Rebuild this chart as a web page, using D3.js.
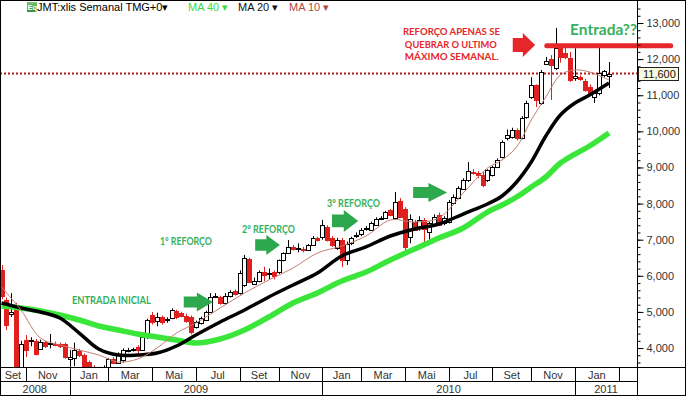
<!DOCTYPE html>
<html>
<head>
<meta charset="utf-8">
<script src="https://cdn.jsdelivr.net/npm/d3@7"></script>
<style>
  body { margin: 0; background: #fff; }
  svg { display: block; }
  text { font-family: Arial, "Liberation Sans", sans-serif; }
</style>
</head>
<body>
<svg id="chart" width="686" height="396"></svg>
<script>
// weekly candles, first week starts Mon 29 Sep 2008
var opens = [6150,5330,4950,5150,3450,4220,4180,4190,3980,4160,
  4120,4120,4110,4110,3700,3720,3920,3800,3600,3450,
  3380,3440,3470,3690,3590,3670,3920,3950,4030,3950,
  4290,4910,4750,4860,4760,4830,5020,4980,4900,4850,
  4580,4680,4780,5000,5420,5410,5250,5440,5580,5520,
  5750,6460,5800,5850,6100,6040,6100,6100,6440,6650,
  6800,6740,6740,6720,6860,7050,7060,7350,7050,6770,
  6990,6440,6900,7100,7150,7300,7270,7410,7580,7600,
  7820,7600,8080,7850,7050,7500,7320,7540,7210,7420,
  7680,7450,7480,8020,8155,8400,8650,8880,8850,8800,
  8650,8790,9010,9290,9820,9840,10040,9820,10400,10950,
  11280,10780,11870,12000,11750,12300,12170,12030,11480,11500,
  11390,11230,10950,11060,11580,11540];
var highs = [6300,5400,5520,5250,4200,4360,4300,4250,4230,4200,
  4390,4180,4150,4150,3950,4150,3980,3850,3650,3520,
  3480,3520,3720,3750,3880,3990,4000,4010,4080,4320,
  4810,5000,4980,4900,4850,5100,5060,5000,4950,4900,
  4760,4870,5030,5520,5520,5450,5520,5600,5620,6150,
  6580,6500,5950,6150,6250,6200,6150,6450,6650,6990,
  6850,6900,6800,6880,7100,7080,7550,7400,7100,7050,
  7050,6950,7080,7200,7320,7380,7500,7620,7650,7800,
  7850,8320,8150,7900,7700,7550,7650,7600,7500,7700,
  7750,7650,8100,8250,8480,8700,9150,8950,8900,8870,
  8950,9050,9250,9750,10050,10100,10080,10420,10850,11500,
  11300,11700,12060,12110,12860,12400,12390,12200,12300,11550,
  11450,11300,11100,12370,11700,11920];
var lows = [5350,4500,4860,3350,3400,3750,4050,3800,3950,4000,
  3990,4050,4000,3700,3480,3500,3750,3420,3350,3250,
  3250,3350,3420,3560,3560,3600,3880,3900,3850,3920,
  4250,4650,4600,4650,4700,4800,4800,4850,4700,4380,
  4540,4650,4750,4980,5380,5200,5200,5400,5450,5480,
  5700,5800,5750,5820,5850,5900,5900,6050,6400,6620,
  6700,6650,6650,6700,6830,6950,7000,6950,6800,6720,
  6240,6300,6850,7050,7100,7250,7250,7380,7550,7580,
  7650,7550,7600,6710,6900,7250,7250,6900,6950,7350,
  7380,7400,7450,7980,8120,8380,8600,8800,8700,8450,
  8600,8750,8980,9250,9750,9800,9750,9780,10350,10900,
  10670,10730,11840,10870,11700,11900,12000,11370,11400,11400,
  11100,11000,10785,11000,11500,11200];
var closes = [5420,4640,5000,3420,4110,3950,4220,3830,4160,4050,
  4150,4100,4060,3750,3760,3940,3800,3480,3420,3380,
  3440,3480,3700,3590,3810,3940,3950,3970,3940,4300,
  4770,4720,4850,4720,4800,5050,4850,4900,4750,4440,
  4720,4830,5000,5420,5450,5250,5450,5560,5500,6070,
  6490,5830,5870,6100,6020,6070,6000,6430,6630,6810,
  6750,6760,6720,6850,7050,7000,7400,6990,6860,6990,
  6440,6880,7040,7130,7270,7320,7460,7570,7600,7760,
  7680,8030,7650,6800,7560,7280,7540,7300,7450,7630,
  7410,7600,8040,8180,8430,8650,8900,8850,8800,8510,
  8930,9010,9200,9700,9900,10040,9820,10370,10780,11280,
  10870,11640,11950,11840,12310,12060,12060,11420,11530,11450,
  11140,11060,11060,11610,11680,11600];

// moving averages at these week numbers
var maWeeks = [0,4,8,12,16,20,24,28,32,36,40,45,50,55,60,65,70,75,80,85,90,95,100,103,106,109,112,115,118,121,125];
var ma40 = [5164,5109,5025,4915,4776,4610,4499,4389,4306,4222,4139,4250,4499,4859,5247,5524,5856,6105,6438,6742,7047,7324,7766,7960,8182,8459,8736,9124,9372,9594,9954];
var ma20 = [5247,5109,4998,4831,4416,3973,3807,3807,3862,4056,4361,4721,5053,5413,5746,6078,6549,6798,7102,7296,7435,7711,7988,8210,8598,9152,9871,10453,10785,11006,11339];
var ma10 = [5690,5053,4278,4084,3946,3807,3613,3696,4001,4416,4693,5109,5524,5884,6216,6631,6825,7102,7546,7491,7602,8293,8985,9207,9567,10315,10951,11560,11699,11643,11422];

var yTicks = [4000,5000,6000,7000,8000,9000,10000,11000,12000,13000];
var monthNames = ["Jan","Fev","Mar","Abr","Mai","Jun","Jul","Ago","Set","Out","Nov","Dez"];
var lastPrice = 11600;
var resistance = 12370;

var green = "#36b05c", arrowGreen = "#2ea84c", red = "#e5262a";

// annotations in week / price units
var notes = [
  {t: "ENTRADA INICIAL", w: 14.5, v: 5219, len: 79, size: 10.5, c: green},
  {t: "1º REFORÇO", w: 32.6, v: 6853, len: 52, size: 10.5, c: green},
  {t: "2º REFORÇO", w: 49.5, v: 7182, len: 53, size: 10.5, c: green},
  {t: "3º REFORÇO", w: 67, v: 7902, len: 53, size: 10.5, c: green},
  {t: "Entrada??", w: 117, v: 12668, len: 67, size: 14.5, c: green},
  {t: "REFORÇO APENAS SE", w: 82.6, v: 12668, len: 97, size: 10, c: red},
  {t: "QUEBRAR O ULTIMO", w: 83.0, v: 12308, len: 92, size: 10, c: red},
  {t: "MÁXIMO SEMANAL.", w: 83.0, v: 11975, len: 94, size: 10, c: red}
];
var arrows = [
  {w0: 37.5, w1: 43.5, v: 5274, h: 19, c: arrowGreen},
  {w0: 52.2, w1: 57.3, v: 6853, h: 20, c: arrowGreen},
  {w0: 68.0, w1: 73.4, v: 7518, h: 22, c: arrowGreen},
  {w0: 84.7, w1: 91.7, v: 8307, h: 19, c: arrowGreen},
  {w0: 105.2, w1: 109.8, v: 12391, h: 24, c: red}
];

var svg = d3.select("#chart");
var plotR = 637, plotB = 367;

var firstWeek = new Date(2008, 8, 29);
var x = d3.scaleLinear().domain([0, 127]).range([1.5, 618.7]);
var y = d3.scaleLinear().domain([3475, 13637]).range([plotB, 0]);

svg.append("rect").attr("width", 686).attr("height", 396).attr("fill", "#fff");

svg.append("clipPath").attr("id", "plot")
  .append("rect").attr("width", plotR).attr("height", plotB);
var g = svg.append("g").attr("clip-path", "url(#plot)");

// last price dotted line
g.append("line")
  .attr("x1", 0).attr("x2", plotR)
  .attr("y1", y(lastPrice)).attr("y2", y(lastPrice))
  .attr("stroke", "#b01818").attr("stroke-width", 2).attr("stroke-dasharray", "2,2");

// candles
var cand = g.append("g").selectAll("g").data(opens).enter().append("g")
  .attr("transform", function (d, i) { return "translate(" + (Math.round(x(i)) + 0.5) + ",0)"; });
cand.append("line")
  .attr("y1", function (d, i) { return y(highs[i]); })
  .attr("y2", function (d, i) { return y(lows[i]); })
  .attr("stroke", function (d, i) { return closes[i] >= d ? "#000" : "#e0201f"; });
cand.append("rect")
  .attr("x", -2).attr("width", 4)
  .attr("y", function (d, i) { return Math.round(y(Math.max(d, closes[i]))) + 0.5; })
  .attr("height", function (d, i) { return Math.max(1, Math.round(y(Math.min(d, closes[i])) - y(Math.max(d, closes[i])))); })
  .attr("fill", function (d, i) { return closes[i] >= d ? "#fff" : "#e0201f"; })
  .attr("stroke", function (d, i) { return closes[i] >= d ? "#000" : "#e0201f"; });

// moving averages
var maLine = d3.line()
  .x(function (d, i) { return x(maWeeks[i]); })
  .y(function (d) { return y(d); })
  .curve(d3.curveCatmullRom);
g.append("path").datum(ma40).attr("d", maLine)
  .attr("fill", "none").attr("stroke", "#3be63b").attr("stroke-width", 5.5);
g.append("path").datum(ma20).attr("d", maLine)
  .attr("fill", "none").attr("stroke", "#000").attr("stroke-width", 3.5);
g.append("path").datum(ma10).attr("d", maLine)
  .attr("fill", "none").attr("stroke", "#c47e72").attr("stroke-width", 1);

// arrows
arrows.forEach(function (a) {
  var x0 = x(a.w0), x1 = x(a.w1), yc = y(a.v);
  var hs = x0 + (x1 - x0) * 0.45, t = a.h * 0.29, h = a.h / 2;
  svg.append("path")
    .attr("d", "M" + x0 + "," + (yc - t) + "L" + hs + "," + (yc - t) + "L" + hs + "," + (yc - h) +
      "L" + x1 + "," + yc + "L" + hs + "," + (yc + h) + "L" + hs + "," + (yc + t) + "L" + x0 + "," + (yc + t) + "Z")
    .attr("fill", a.c);
});

// resistance bar drawn by hand over the chart
svg.append("line")
  .attr("x1", x(112.2)).attr("x2", x(137.7))
  .attr("y1", y(resistance)).attr("y2", y(resistance))
  .attr("stroke", red).attr("stroke-width", 5).attr("stroke-linecap", "round");

// notes
svg.selectAll(".note").data(notes).enter().append("text")
  .attr("x", function (d) { return x(d.w); })
  .attr("y", function (d) { return y(d.v); })
  .attr("textLength", function (d) { return d.len; })
  .attr("lengthAdjust", "spacingAndGlyphs")
  .style("font-family", "Lato, 'Open Sans', sans-serif")
  .style("font-weight", "bold")
  .style("font-size", function (d) { return d.size + "px"; })
  .attr("fill", function (d) { return d.c; })
  .text(function (d) { return d.t; });

// frame
var frame = svg.append("g").attr("stroke", "#000").attr("shape-rendering", "crispEdges");
frame.append("rect").attr("x", 0.5).attr("y", 0.5).attr("width", 685).attr("height", 395).attr("fill", "none");
frame.append("line").attr("x1", plotR + 0.5).attr("x2", plotR + 0.5).attr("y1", 0).attr("y2", 396);
frame.append("line").attr("x1", 0).attr("x2", 686).attr("y1", plotB + 0.5).attr("y2", plotB + 0.5);
frame.append("line").attr("x1", 0).attr("x2", plotR).attr("y1", 381.5).attr("y2", 381.5);

// price axis
var minor = d3.range(3600, 13600, 200);
svg.append("g").attr("transform", "translate(" + (plotR + 0.5) + ",0)")
  .call(d3.axisRight(y).tickValues(minor).tickSize(3).tickFormat(""))
  .call(function (a) { a.select(".domain").remove(); });
var yAxis = svg.append("g").attr("transform", "translate(" + (plotR + 0.5) + ",0)")
  .call(d3.axisRight(y).tickValues(yTicks).tickSize(6).tickPadding(3).tickFormat(d3.format(",")));
yAxis.select(".domain").remove();
yAxis.selectAll("text").attr("fill", "#333").style("font-size", "11px").style("font-family", "Arial, 'Liberation Sans', sans-serif");

// last price box
var lp = svg.append("g").attr("transform", "translate(638," + y(lastPrice) + ")");
lp.append("rect").attr("x", 0.5).attr("y", -6.5).attr("width", 40).attr("height", 13)
  .attr("fill", "#fbfbe0").attr("stroke", "#222").attr("shape-rendering", "crispEdges");
lp.append("text").attr("x", 5).attr("y", 4.5).attr("fill", "#111").style("font-size", "11px").text(d3.format(",")(lastPrice));

// time axis: months every two months, years below
var mTicks = d3.timeMonth.every(2).range(new Date(2008, 8, 1), new Date(2011, 3, 1))
  .map(function (m) { return {m: m, w: d3.timeMonday.count(firstWeek, d3.timeMonday.ceil(m))}; });
var bottom = svg.append("g").attr("shape-rendering", "crispEdges");
mTicks.forEach(function (t, k) {
  var x0 = Math.max(0, x(t.w));
  var x1 = k + 1 < mTicks.length ? x(mTicks[k + 1].w) : plotR;
  if (x(t.w) > 0) {
    bottom.append("line").attr("x1", Math.round(x0) + 0.5).attr("x2", Math.round(x0) + 0.5)
      .attr("y1", plotB).attr("y2", 382).attr("stroke", "#000");
  }
  if (x1 - x0 > 20) {
    svg.append("text").attr("x", (x0 + x1) / 2).attr("y", 378.5).attr("text-anchor", "middle")
      .attr("fill", "#333").style("font-size", "11px").text(monthNames[t.m.getMonth()]);
  }
});
var years = d3.timeYear.range(new Date(2008, 0, 1), new Date(2012, 0, 1))
  .map(function (d) { return {yr: d.getFullYear(), w: d3.timeMonday.count(firstWeek, d3.timeMonday.ceil(d))}; });
years.forEach(function (t, k) {
  var x0 = Math.max(0, x(t.w));
  var x1 = k + 1 < years.length ? Math.min(plotR, x(years[k + 1].w)) : plotR;
  if (x(t.w) > 0) {
    bottom.append("line").attr("x1", Math.round(x0) + 0.5).attr("x2", Math.round(x0) + 0.5)
      .attr("y1", 382).attr("y2", 396).attr("stroke", "#000");
  }
  svg.append("text").attr("x", (x0 + x1) / 2).attr("y", 392.5).attr("text-anchor", "middle")
    .attr("fill", "#333").style("font-size", "11px").text(t.yr);
});

// header
var hd = svg.append("g");
var grad = svg.append("defs").append("linearGradient").attr("id", "eq").attr("x1", 0).attr("y1", 0).attr("x2", 0).attr("y2", 1);
grad.append("stop").attr("offset", 0).attr("stop-color", "#7cc576");
grad.append("stop").attr("offset", 1).attr("stop-color", "#2f8f3a");
hd.append("rect").attr("x", 27).attr("y", 2).attr("width", 10).attr("height", 10).attr("fill", "url(#eq)");
hd.append("text").attr("x", 27.5).attr("y", 10).attr("fill", "#fff").style("font-size", "7.5px").style("font-weight", "bold").text("Eq");
var hdr = [
  {t: "JMT:xlis Semanal TMG+0\u25BE", x: 37, c: "#000"},
  {t: "MA 40 \u25BE", x: 188, c: "#3fd83f"},
  {t: "MA 20 \u25BE", x: 238, c: "#111"},
  {t: "MA 10 \u25BE", x: 289, c: "#b0473f"}
];
hd.selectAll(".h").data(hdr).enter().append("text")
  .attr("x", function (d) { return d.x; }).attr("y", 11)
  .attr("fill", function (d) { return d.c; })
  .style("font-size", "11px")
  .text(function (d) { return d.t; });
</script>
</body>
</html>
